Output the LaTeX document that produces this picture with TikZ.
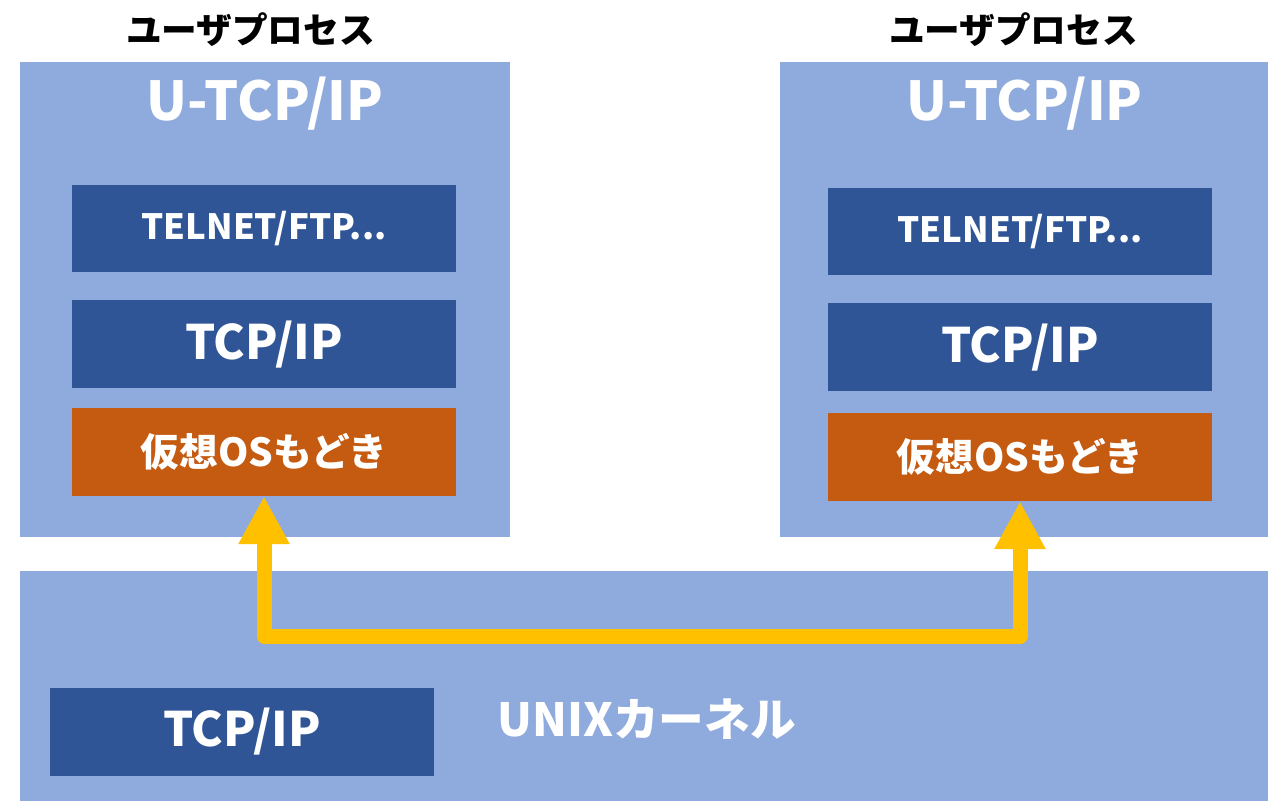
\documentclass[tikz,border=0pt]{standalone}
\usepackage{fontspec}
\setmainfont{Noto Sans CJK JP}
\definecolor{procblue}{HTML}{8FAADC}
\definecolor{layerblue}{HTML}{2F5597}
\definecolor{osorange}{HTML}{C55A11}
\definecolor{arrowgold}{HTML}{FFC000}
\usetikzlibrary{arrows.meta,positioning}
\tikzset{
  proc_box/.style={fill=procblue,draw=none,inner sep=0pt,
    minimum width=9.8cm,minimum height=9.5cm},
  kernel_box/.style={fill=procblue,draw=none,inner sep=0pt,
    minimum width=24.96cm,minimum height=4.6cm},
  layer_box/.style={fill=layerblue,draw=none,inner sep=0pt,
    minimum width=7.68cm,minimum height=1.76cm,text=white,
    font=\bfseries\fontsize{27}{32}\selectfont},
  layer_app/.style={layer_box,font=\bfseries\fontsize{19.8}{24}\selectfont},
  layer_warn/.style={layer_box,fill=osorange,font=\bfseries\fontsize{22}{26}\selectfont},
  title_text/.style={inner sep=0pt,font=\bfseries\fontsize{20.3}{24}\selectfont},
  stack_text/.style={inner sep=0pt,text=white,font=\bfseries\fontsize{30.5}{36}\selectfont},
  kernel_text/.style={inner sep=0pt,text=white,font=\bfseries\fontsize{26}{31}\selectfont},
  arr/.style={{Triangle[length=0.96cm,width=0.96cm]}-{Triangle[length=0.96cm,width=0.96cm]},
    draw=arrowgold,line width=0.3cm,line join=round},
}

\begin{document}
\begin{tikzpicture}[x=0.02cm,y=-0.02cm]
  \useasboundingbox (0,0) rectangle (1273,801);
  % user processes
  \node[proc_box] (lproc) at (265,299.5) {};
  \node[proc_box,minimum width=9.76cm] (rproc) at (1024,299.5) {};
  \node[title_text] (ltitle) at (250.5,30) {ユーザプロセス};
  \node[title_text] (rtitle) at (1013.5,30) {ユーザプロセス};
  \node[stack_text] (lstack) at (265,104) {U-TCP/IP};
  \node[stack_text] (rstack) at (1024.5,104) {U-TCP/IP};
  \node[layer_app] (ltel) at (264,228.5) {TELNET/FTP...};
  \node[layer_box,below=0.54cm of ltel] (ltcp) {TCP/IP};
  \node[layer_warn,below=0.38cm of ltcp] (los) {仮想OSもどき};
  \node[layer_app] (rtel) at (1020,231.5) {TELNET/FTP...};
  \node[layer_box,below=0.54cm of rtel] (rtcp) {TCP/IP};
  \node[layer_warn,below=0.42cm of rtcp] (ros) {仮想OSもどき};
  % kernel
  \node[kernel_box] (kernel) at (644,686) {};
  \node[layer_box] (ktcp) at (242,731.5) {TCP/IP};
  \node[kernel_text,anchor=west] (ktext) at (497,719) {UNIXカーネル};
  % path between the two pseudo OS layers
  \coordinate (bend_l) at (264,636);
  \coordinate (bend_r) at (1020,636);
  \draw[arr] (los.south) -- (bend_l) -- (bend_r) -- (ros.south);
\end{tikzpicture}
\end{document}
